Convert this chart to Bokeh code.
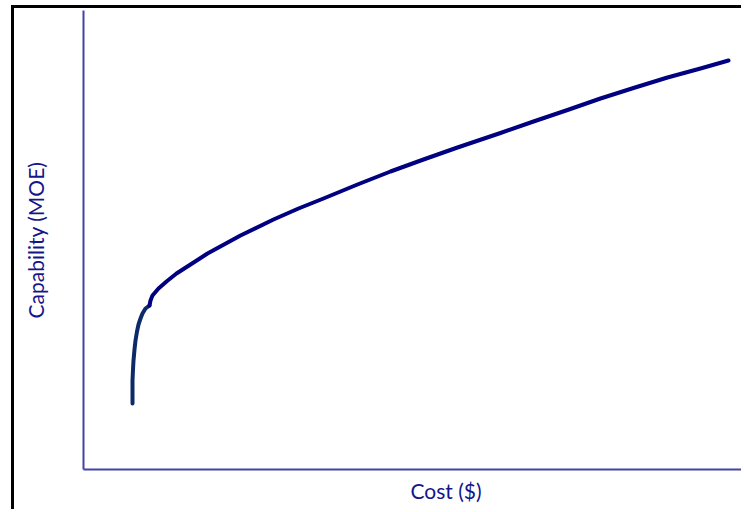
from bokeh.plotting import figure
from bokeh.models import Range1d, Title
from bokeh.embed import file_html
from bokeh.resources import INLINE

# Data (arbitrary units)
low_cost = [49, 49, 49.5, 50, 51, 52, 53.5, 55, 57, 59, 62, 66]
low_cap = [66, 89, 100, 109, 120, 129, 138, 145, 151, 156, 161, 164]

high_cost = [66, 67, 69, 75, 83, 93, 107, 124, 157, 190, 215, 240, 274, 307,
             340, 374, 417, 450, 484, 517, 550, 584, 617, 645]
high_cap = [164, 169, 174, 181, 188, 196, 205, 216, 234, 250, 261, 271, 285, 298,
            310, 322, 336.5, 348, 359.5, 371, 381.5, 392, 401, 409]

x_label = "Cost ($)"
y_label = "Capability (MOE)"

TEXT_COLOR = "#15158a"
AXIS_COLOR = "#4343a3"
FONT = "Lato"

p = figure(width=730, height=504, output_backend="svg", toolbar_location=None,
           x_range=Range1d(0, 658), y_range=Range1d(0, 459),
           min_border_left=69, min_border_right=3, min_border_top=2, min_border_bottom=43)
p.styles = {"border-left": "3px solid black", "border-top": "3px solid black",
            "margin-left": "11px", "margin-top": "5px"}

p.xgrid.visible = False
p.ygrid.visible = False
p.outline_line_color = None
p.background_fill_color = "white"
p.border_fill_color = "white"

for ax in (p.xaxis, p.yaxis):
    ax.ticker = []
    ax.axis_line_color = AXIS_COLOR
    ax.axis_line_width = 2
    ax.major_tick_line_color = None
    ax.minor_tick_line_color = None
    ax.major_tick_out = 0
    ax.major_tick_in = 0
    ax.minor_tick_out = 0
    ax.major_label_standoff = 0
    ax.major_label_text_font_size = "0px"

p.yaxis.axis_label = y_label
p.yaxis.axis_label_text_font = FONT
p.yaxis.axis_label_text_font_size = "21px"
p.yaxis.axis_label_text_font_style = "normal"
p.yaxis.axis_label_text_color = TEXT_COLOR
p.yaxis.axis_label_standoff = 36

p.line(low_cost, low_cap, line_color="#0c2a68", line_width=4, line_cap="round", line_join="round")
p.line(high_cost, high_cap, line_color="#000080", line_width=4, line_cap="round", line_join="round")

p.add_layout(Title(text=x_label, align="left", offset=327, standoff=12,
                   text_font=FONT, text_font_size="21px", text_font_style="normal",
                   text_color=TEXT_COLOR), "below")

open("out.html", "w").write(file_html(p, INLINE))
